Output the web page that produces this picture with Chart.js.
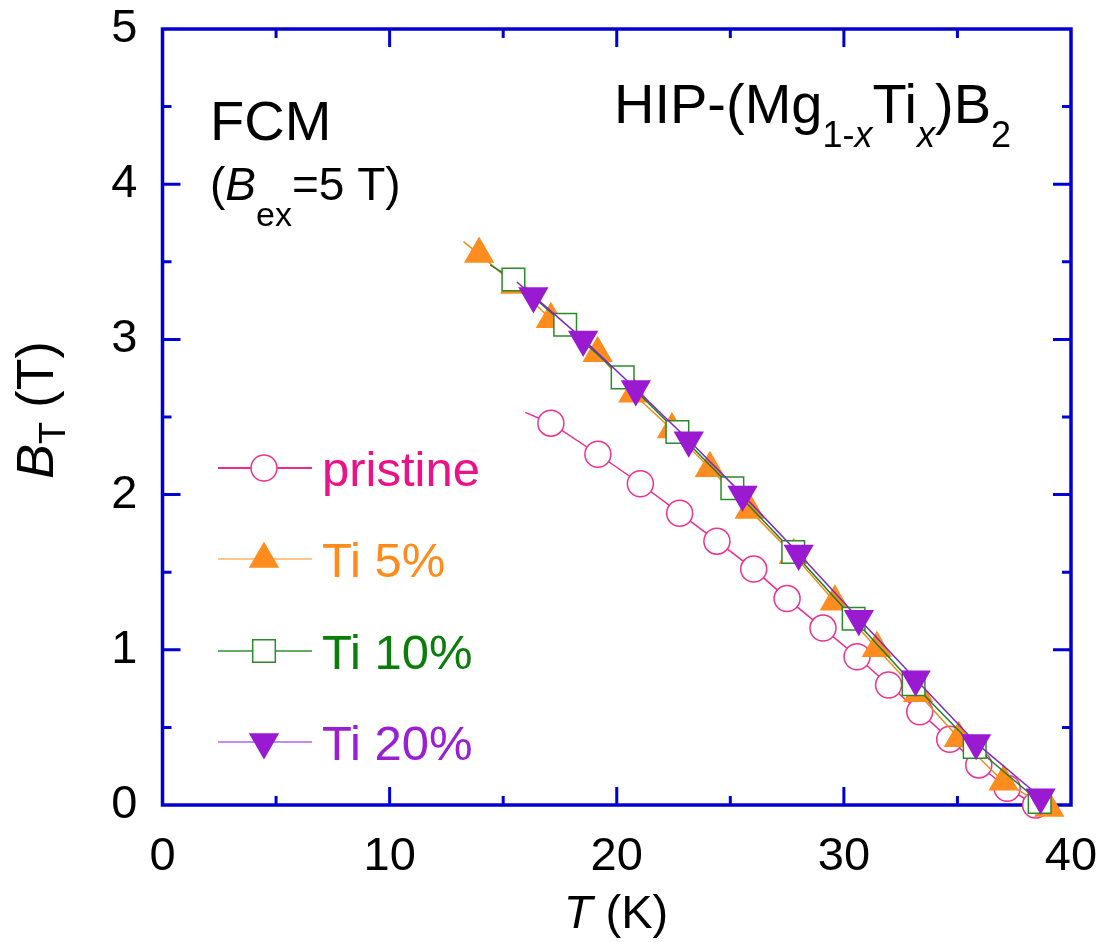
<!DOCTYPE html>
<html lang="en">
<head>
    <meta charset="UTF-8">
    <title>B_T vs T, HIP-(Mg1-xTix)B2</title>
    <script src="https://cdn.jsdelivr.net/npm/chart.js"></script>
    <style>
        body { margin: 0; background: #fff; }
    </style>
</head>
<body>
    <canvas id="btChart" width="1101" height="942"></canvas>
    <script>
        // values (first point of each curve is the line lead-in, no marker)
        const pristineT = [15.97, 17.10, 19.17, 21.04, 22.77, 24.41, 26.03, 27.50, 29.08, 30.58, 31.97, 33.34, 34.66, 35.94, 37.19, 38.44];
        const pristineB = [2.53, 2.46, 2.26, 2.07, 1.88, 1.70, 1.52, 1.33, 1.14, 0.955, 0.773, 0.601, 0.423, 0.258, 0.108, 0.0];

        const ti5T = [13.25, 13.94, 15.53, 17.10, 19.16, 20.73, 22.43, 24.10, 25.85, 27.79, 29.60, 31.45, 33.27, 35.06, 37.03, 39.04];
        const ti5B = [3.63, 3.55, 3.35, 3.13, 2.91, 2.65, 2.42, 2.17, 1.90, 1.61, 1.31, 1.01, 0.72, 0.43, 0.15, -0.02];

        const ti10T = [14.43, 15.45, 17.73, 20.26, 22.67, 25.09, 27.77, 30.43, 33.07, 35.76, 38.62];
        const ti10B = [3.48, 3.386, 3.094, 2.755, 2.403, 2.041, 1.630, 1.200, 0.778, 0.374, 0.019];

        const ti20T = [15.60, 16.33, 18.52, 20.84, 23.17, 25.54, 28.01, 30.66, 33.16, 35.82, 38.66];
        const ti20B = [3.37, 3.28, 3.00, 2.68, 2.35, 2.00, 1.62, 1.20, 0.81, 0.40, 0.05];

        const xTicks = [0, 10, 20, 30, 40];
        const yTicks = [0, 1, 2, 3, 4, 5];

        const FONT = "'Liberation Sans', Arial, sans-serif";
        const AXIS = '#0000d4';

        const series = [
            { label: 'pristine', t: pristineT, b: pristineB, text: '#ec1186', line: '#ee2a8e',
              style: 'circle', rot: 0, r: 13, fill: '#ffffff', stroke: '#f0308e', legendLine: '#ee2a8e', order: 4 },
            { label: 'Ti 5%', t: ti5T, b: ti5B, text: '#ff8c1a', line: '#f08a20',
              style: 'triangle', rot: 0, r: 16, fill: '#ff8c1e', stroke: '#ff8c1e', legendLine: '#ffc58a', order: 3 },
            { label: 'Ti 10%', t: ti10T, b: ti10B, text: '#0a7d0a', line: '#1f7f1f',
              style: 'rect', rot: 0, r: 16, fill: '#ffffff', stroke: '#2a8a2a', legendLine: '#66aa66', order: 2 },
            { label: 'Ti 20%', t: ti20T, b: ti20B, text: '#9a1ed2', line: '#7a2ac8',
              style: 'triangle', rot: 180, r: 16, fill: '#9a1ad2', stroke: '#9a1ad2', legendLine: '#c58af0', order: 1 }
        ];

        function drawRich(ctx, parts, x, y) {
            // parts: [text, size, italic, dy]
            let cx = x;
            parts.forEach(p => {
                ctx.font = (p[2] ? 'italic ' : '') + p[1] + 'px ' + FONT;
                ctx.fillText(p[0], cx, y + (p[3] || 0));
                cx += ctx.measureText(p[0]).width;
            });
            return cx - x;
        }
        function richWidth(ctx, parts) {
            let w = 0;
            parts.forEach(p => {
                ctx.font = (p[2] ? 'italic ' : '') + p[1] + 'px ' + FONT;
                w += ctx.measureText(p[0]).width;
            });
            return w;
        }

        const framePlugin = {
            id: 'frame',
            beforeDatasetsDraw(chart) {
                const ctx = chart.ctx;
                const xs = chart.scales.x, ys = chart.scales.y;
                const a = chart.chartArea;
                ctx.save();
                ctx.strokeStyle = AXIS;
                ctx.lineWidth = 3;
                for (let v = 5; v < 40; v += 5) {
                    const px = xs.getPixelForValue(v);
                    const len = v % 10 === 0 ? 18 : 9;
                    ctx.beginPath();
                    ctx.moveTo(px, a.bottom); ctx.lineTo(px, a.bottom - len);
                    ctx.moveTo(px, a.top); ctx.lineTo(px, a.top + len);
                    ctx.stroke();
                }
                for (let v = 0.5; v < 5; v += 0.5) {
                    const py = ys.getPixelForValue(v);
                    const len = Math.abs(v - Math.round(v)) < 1e-6 ? 18 : 9;
                    ctx.beginPath();
                    ctx.moveTo(a.left, py); ctx.lineTo(a.left + len, py);
                    ctx.moveTo(a.right, py); ctx.lineTo(a.right - len, py);
                    ctx.stroke();
                }
                ctx.lineWidth = 3.5;
                ctx.strokeRect(a.left, a.top, a.right - a.left, a.bottom - a.top);
                ctx.restore();
            },
            afterDraw(chart) {
                const ctx = chart.ctx;
                ctx.save();
                ctx.fillStyle = '#000';
                ctx.textBaseline = 'alphabetic';
                ctx.textAlign = 'left';

                // x axis title
                const xt = [['T', 47, true], [' (K)', 47, false]];
                drawRich(ctx, xt, 616 - richWidth(ctx, xt) / 2, 928);

                // y axis title, rotated
                const yt = [['B', 52, true], ['T', 36, false, 12], [' (T)', 52, false]];
                ctx.save();
                ctx.translate(53, 410);
                ctx.rotate(-Math.PI / 2);
                drawRich(ctx, yt, -richWidth(ctx, yt) / 2, 0);
                ctx.restore();

                // annotations
                ctx.font = '56px ' + FONT;
                ctx.fillText('FCM', 210, 140);
                drawRich(ctx, [['(', 46], ['B', 46, true], ['ex', 34, false, 26], ['=5 T)', 46]], 210, 200);
                drawRich(ctx, [['HIP-(Mg', 56], ['1-', 36, false, 24], ['x', 36, true, 24], ['Ti', 56],
                               ['x', 36, true, 24], [')B', 56], ['2', 36, false, 24]], 614, 123);

                // legend
                const rowY = [468, 559, 651, 742];
                series.forEach((s, i) => {
                    const y = rowY[i];
                    ctx.strokeStyle = s.legendLine;
                    ctx.lineWidth = 2;
                    ctx.beginPath();
                    ctx.moveTo(218, y); ctx.lineTo(312, y);
                    ctx.stroke();
                    ctx.fillStyle = s.fill;
                    ctx.strokeStyle = s.stroke;
                    ctx.lineWidth = 1.5;
                    Chart.helpers.drawPoint(ctx, { pointStyle: s.style, rotation: s.rot, radius: s.r, borderWidth: 1.5 }, 264, y);
                    ctx.fillStyle = s.text;
                    ctx.font = '49px ' + FONT;
                    ctx.fillText(s.label, 322, y + 18);
                });
                ctx.restore();
            }
        };

        const datasets = series.map(s => ({
            label: s.label,
            data: s.t.map((t, i) => ({ x: t, y: s.b[i] })),
            showLine: true,
            borderColor: s.line,
            borderWidth: 1.5,
            tension: 0,
            pointStyle: s.style,
            rotation: s.rot,
            pointRadius: c => c.dataIndex === 0 ? 0 : s.r,
            pointBackgroundColor: s.fill,
            pointBorderColor: s.stroke,
            pointBorderWidth: 1.5,
            order: s.order,
            clip: false
        }));

        const ctx = document.getElementById('btChart').getContext('2d');
        new Chart(ctx, {
            type: 'scatter',
            data: { datasets: datasets },
            options: {
                responsive: false,
                animation: false,
                events: [],
                layout: { padding: { top: 29, right: 30, left: 0, bottom: 0 } },
                plugins: {
                    legend: { display: false },
                    tooltip: { enabled: false }
                },
                scales: {
                    x: {
                        type: 'linear',
                        min: 0, max: 40,
                        afterBuildTicks: sc => { sc.ticks = xTicks.map(v => ({ value: v })); },
                        afterFit: sc => { sc.height = 137; sc.paddingLeft = 0; sc.paddingRight = 0; },
                        grid: { display: false, drawTicks: false },
                        border: { display: false },
                        ticks: { color: '#000', padding: 24, maxRotation: 0, font: { family: FONT, size: 47 } }
                    },
                    y: {
                        type: 'linear',
                        min: 0, max: 5,
                        afterBuildTicks: sc => { sc.ticks = yTicks.map(v => ({ value: v })); },
                        afterFit: sc => { sc.width = 162.5; sc.paddingTop = 0; sc.paddingBottom = 0; },
                        grid: { display: false, drawTicks: false },
                        border: { display: false },
                        ticks: { color: '#000', padding: 25, font: { family: FONT, size: 47 } }
                    }
                }
            },
            plugins: [framePlugin]
        });
    </script>
</body>
</html>
